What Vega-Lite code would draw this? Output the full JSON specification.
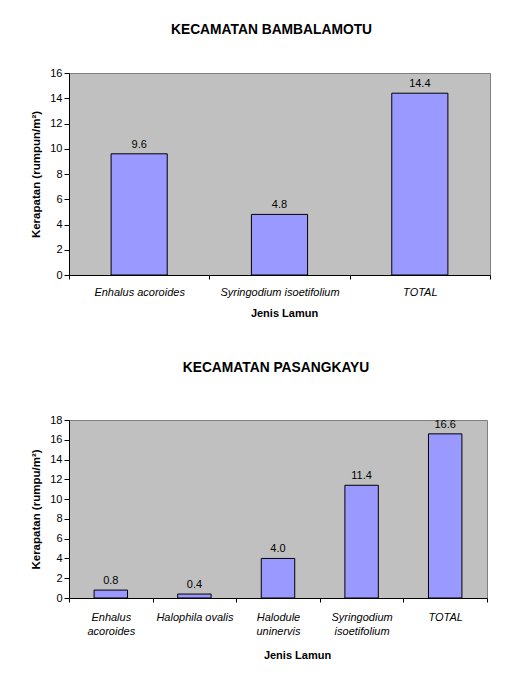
{
  "$schema": "https://vega.github.io/schema/vega-lite/v6.json",
  "background": "white",
  "padding": {"left": 30, "top": 22, "right": 5, "bottom": 5},
  "spacing": 41,
  "config": {
    "font": "Liberation Sans",
    "view": {"fill": "#C0C0C0", "stroke": "#808080", "strokeWidth": 1},
    "axis": {
      "grid": false,
      "domainColor": "#000000",
      "tickColor": "#000000",
      "labelColor": "#000000",
      "titleColor": "#000000",
      "labelFont": "Liberation Sans",
      "titleFont": "Liberation Sans",
      "labelFontSize": 11,
      "titleFontSize": 11,
      "titleFontWeight": "bold"
    },
    "title": {"font": "Liberation Sans", "fontSize": 13.8, "fontWeight": "bold", "color": "#000000"}
  },
  "vconcat": [
    {
      "title": {"text": "KECAMATAN BAMBALAMOTU", "offset": 30, "dx": -8},
      "width": 421,
      "height": 202,
      "data": {"values": [
        {"jenis": "Enhalus acoroides", "kerapatan": 9.6},
        {"jenis": "Syringodium  isoetifolium", "kerapatan": 4.8},
        {"jenis": "TOTAL", "kerapatan": 14.4}
      ]},
      "encoding": {
        "x": {"field": "jenis", "type": "nominal", "sort": null,
          "scale": {"paddingInner": 0, "paddingOuter": 0},
          "axis": {"title": "Jenis Lamun", "labelAngle": 0, "tickBand": "extent", "tickSize": 4,
            "labelFontStyle": "italic", "labelPadding": 7, "titlePadding": 10, "titleX": 215}},
        "y": {"field": "kerapatan", "type": "quantitative",
          "scale": {"domain": [0, 16], "nice": false},
          "axis": {"title": "Kerapatan (rumpun/m²)", "values": [0, 2, 4, 6, 8, 10, 12, 14, 16],
            "tickSize": 5, "labelPadding": 2, "titlePadding": 8, "titleFontSize": 11.5}}
      },
      "layer": [
        {"mark": {"type": "bar", "width": {"band": 0.4}, "fill": "#9999FF", "stroke": "#000000", "strokeWidth": 1}},
        {"mark": {"type": "text", "dy": -6, "baseline": "alphabetic", "fontSize": 11, "color": "#000000"},
          "encoding": {"text": {"field": "kerapatan", "type": "quantitative", "format": ".1f"}}}
      ]
    },
    {
      "title": {"text": "KECAMATAN PASANGKAYU", "offset": 39, "dx": -2},
      "width": 418,
      "height": 178,
      "data": {"values": [
        {"jenis": "Enhalus|acoroides", "kerapatan": 0.8},
        {"jenis": "Halophila ovalis", "kerapatan": 0.4},
        {"jenis": "Halodule|uninervis", "kerapatan": 4.0},
        {"jenis": "Syringodium|isoetifolium", "kerapatan": 11.4},
        {"jenis": "TOTAL", "kerapatan": 16.6}
      ]},
      "encoding": {
        "x": {"field": "jenis", "type": "nominal", "sort": null,
          "scale": {"paddingInner": 0, "paddingOuter": 0},
          "axis": {"title": "Jenis Lamun", "labelAngle": 0, "tickBand": "extent", "tickSize": 4,
            "labelFontStyle": "italic", "labelPadding": 9, "titlePadding": 13, "titleX": 228,
            "labelExpr": "split(datum.label, '|')", "labelLineHeight": 14}},
        "y": {"field": "kerapatan", "type": "quantitative",
          "scale": {"domain": [0, 18], "nice": false},
          "axis": {"title": "Kerapatan (rumpu/m²)", "values": [0, 2, 4, 6, 8, 10, 12, 14, 16, 18],
            "tickSize": 5, "labelPadding": 2, "titlePadding": 8, "titleFontSize": 11.5}}
      },
      "layer": [
        {"mark": {"type": "bar", "width": {"band": 0.4}, "fill": "#9999FF", "stroke": "#000000", "strokeWidth": 1}},
        {"mark": {"type": "text", "dy": -6, "baseline": "alphabetic", "fontSize": 11, "color": "#000000"},
          "encoding": {"text": {"field": "kerapatan", "type": "quantitative", "format": ".1f"}}}
      ]
    }
  ]
}
